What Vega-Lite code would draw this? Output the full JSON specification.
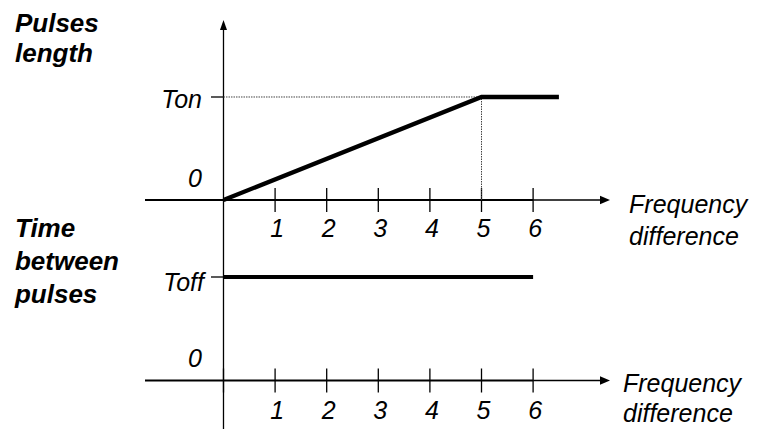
{
  "$schema": "https://vega.github.io/schema/vega-lite/v6.json",
  "padding": 0,
  "spacing": 0,
  "bounds": "flush",
  "background": "white",
  "config": {
    "view": {"stroke": null},
    "font": "Liberation Sans",
    "text": {"font": "Liberation Sans", "color": "black"}
  },
  "resolve": {"scale": {"x": "independent", "y": "independent"}},
  "vconcat": [
    {
      "width": 760,
      "height": 240,
      "encoding": {
        "x": {"field": "x", "type": "quantitative", "scale": {"domain": [-4.331, 10.397], "nice": false, "zero": false}, "axis": null},
        "y": {"field": "y", "type": "quantitative", "scale": {"domain": [-0.3883, 1.9417], "nice": false, "zero": false}, "axis": null}
      },
      "layer": [
        {
          "description": "frequency axis, main segment",
          "data": {"values": [{"x": -1.521, "y": 0, "x2": 6, "y2": 0}]},
          "mark": {"type": "rule", "color": "black", "strokeWidth": 2.2},
          "encoding": {"x2": {"field": "x2"}, "y2": {"field": "y2"}}
        },
        {
          "description": "thin lines: axis tail, vertical axis, ticks, Ton marker",
          "data": {"values": [
            {"x": 6, "y": 0, "x2": 7.35, "y2": 0},
            {"x": 0, "y": -0.3883, "x2": 0, "y2": 1.69},
            {"x": 1, "y": -0.1165, "x2": 1, "y2": 0.1165},
            {"x": 2, "y": -0.1165, "x2": 2, "y2": 0.1165},
            {"x": 3, "y": -0.1165, "x2": 3, "y2": 0.1165},
            {"x": 4, "y": -0.1165, "x2": 4, "y2": 0.1165},
            {"x": 5, "y": -0.1165, "x2": 5, "y2": 0.1165},
            {"x": 6, "y": -0.1165, "x2": 6, "y2": 0.1165},
            {"x": -0.242, "y": 1, "x2": 0, "y2": 1}
          ]},
          "mark": {"type": "rule", "color": "black", "strokeWidth": 1.3},
          "encoding": {"x2": {"field": "x2"}, "y2": {"field": "y2"}}
        },
        {
          "description": "dotted guides to the saturation point",
          "data": {"values": [
            {"x": 0, "y": 1, "x2": 5, "y2": 1},
            {"x": 5, "y": 0, "x2": 5, "y2": 1}
          ]},
          "mark": {"type": "rule", "color": "#444444", "strokeWidth": 1, "strokeDash": [1.5, 1]},
          "encoding": {"x2": {"field": "x2"}, "y2": {"field": "y2"}}
        },
        {
          "description": "pulse length versus frequency difference",
          "data": {"values": [{"x": 0, "y": 0}, {"x": 5, "y": 1}, {"x": 6.5, "y": 1}]},
          "mark": {"type": "line", "color": "black", "strokeWidth": 4.3, "strokeCap": "butt", "strokeJoin": "miter"}
        },
        {
          "data": {"values": [{"x": 0, "y": 1.699}]},
          "mark": {"type": "point", "filled": true, "color": "black", "opacity": 1, "size": 100, "shape": "M0,-1L0.7,1L-0.7,1Z"}
        },
        {
          "data": {"values": [{"x": 7.393, "y": 0}]},
          "mark": {"type": "point", "filled": true, "color": "black", "opacity": 1, "size": 100, "shape": "M1,0L-1,-0.85L-1,0.85Z"}
        },
        {
          "data": {"values": [
            {"x": 1, "y": -0.359, "label": "1"},
            {"x": 2, "y": -0.359, "label": "2"},
            {"x": 3, "y": -0.359, "label": "3"},
            {"x": 4, "y": -0.359, "label": "4"},
            {"x": 5, "y": -0.359, "label": "5"},
            {"x": 6, "y": -0.359, "label": "6"}
          ]},
          "mark": {"type": "text", "fontSize": 25, "fontStyle": "italic", "align": "center", "baseline": "alphabetic", "dx": 2},
          "encoding": {"text": {"field": "label"}}
        },
        {
          "data": {"values": [
            {"x": -0.417, "y": 0.893, "label": "Ton"},
            {"x": -0.42, "y": 0.126, "label": "0"}
          ]},
          "mark": {"type": "text", "fontSize": 25, "fontStyle": "italic", "align": "right", "baseline": "alphabetic"},
          "encoding": {"text": {"field": "label"}}
        },
        {
          "data": {"values": [{"x": 7.86, "y": -0.131, "label": "Frequency\ndifference"}]},
          "mark": {"type": "text", "fontSize": 25, "fontStyle": "italic", "align": "left", "baseline": "alphabetic", "lineBreak": "\n", "lineHeight": 32},
          "encoding": {"text": {"field": "label"}}
        },
        {
          "data": {"values": [{"x": -4.041, "y": 1.631, "label": "Pulses\nlength"}]},
          "mark": {"type": "text", "fontSize": 26, "fontStyle": "italic", "fontWeight": "bold", "align": "left", "baseline": "alphabetic", "lineBreak": "\n", "lineHeight": 30},
          "encoding": {"text": {"field": "label"}}
        }
      ]
    },
    {
      "width": 760,
      "height": 189,
      "encoding": {
        "x": {"field": "x", "type": "quantitative", "scale": {"domain": [-4.331, 10.397], "nice": false, "zero": false}, "axis": null},
        "y": {"field": "y", "type": "quantitative", "scale": {"domain": [-0.4686, 1.3575], "nice": false, "zero": false}, "axis": null}
      },
      "layer": [
        {
          "description": "frequency axis, main segment",
          "data": {"values": [{"x": -1.521, "y": 0, "x2": 6, "y2": 0}]},
          "mark": {"type": "rule", "color": "black", "strokeWidth": 2.2},
          "encoding": {"x2": {"field": "x2"}, "y2": {"field": "y2"}}
        },
        {
          "description": "thin lines: axis tail, vertical axis, ticks, Toff marker",
          "data": {"values": [
            {"x": 6, "y": 0, "x2": 7.35, "y2": 0},
            {"x": 0, "y": -0.4686, "x2": 0, "y2": 1.3575},
            {"x": 0, "y": -0.116, "x2": 0, "y2": 0.116},
            {"x": 1, "y": -0.116, "x2": 1, "y2": 0.116},
            {"x": 2, "y": -0.116, "x2": 2, "y2": 0.116},
            {"x": 3, "y": -0.116, "x2": 3, "y2": 0.116},
            {"x": 4, "y": -0.116, "x2": 4, "y2": 0.116},
            {"x": 5, "y": -0.116, "x2": 5, "y2": 0.116},
            {"x": 6, "y": -0.116, "x2": 6, "y2": 0.116},
            {"x": -0.242, "y": 1, "x2": 0, "y2": 1}
          ]},
          "mark": {"type": "rule", "color": "black", "strokeWidth": 1.3},
          "encoding": {"x2": {"field": "x2"}, "y2": {"field": "y2"}}
        },
        {
          "description": "time between pulses versus frequency difference",
          "data": {"values": [{"x": 0, "y": 1}, {"x": 6, "y": 1}]},
          "mark": {"type": "line", "color": "black", "strokeWidth": 4, "strokeCap": "butt"}
        },
        {
          "data": {"values": [{"x": 7.393, "y": 0}]},
          "mark": {"type": "point", "filled": true, "color": "black", "opacity": 1, "size": 100, "shape": "M1,0L-1,-0.85L-1,0.85Z"}
        },
        {
          "data": {"values": [
            {"x": 1, "y": -0.372, "label": "1"},
            {"x": 2, "y": -0.372, "label": "2"},
            {"x": 3, "y": -0.372, "label": "3"},
            {"x": 4, "y": -0.372, "label": "4"},
            {"x": 5, "y": -0.372, "label": "5"},
            {"x": 6, "y": -0.372, "label": "6"}
          ]},
          "mark": {"type": "text", "fontSize": 25, "fontStyle": "italic", "align": "center", "baseline": "alphabetic", "dx": 2},
          "encoding": {"text": {"field": "label"}}
        },
        {
          "data": {"values": [
            {"x": -0.378, "y": 0.868, "label": "Toff"},
            {"x": -0.42, "y": 0.1275, "label": "0"}
          ]},
          "mark": {"type": "text", "fontSize": 25, "fontStyle": "italic", "align": "right", "baseline": "alphabetic"},
          "encoding": {"text": {"field": "label"}}
        },
        {
          "data": {"values": [{"x": 7.742, "y": -0.108, "label": "Frequency\ndifference"}]},
          "mark": {"type": "text", "fontSize": 25, "fontStyle": "italic", "align": "left", "baseline": "alphabetic", "lineBreak": "\n", "lineHeight": 30},
          "encoding": {"text": {"field": "label"}}
        },
        {
          "data": {"values": [{"x": -4.041, "y": 1.389, "label": "Time\nbetween\npulses"}]},
          "mark": {"type": "text", "fontSize": 26, "fontStyle": "italic", "fontWeight": "bold", "align": "left", "baseline": "alphabetic", "lineBreak": "\n", "lineHeight": 33},
          "encoding": {"text": {"field": "label"}}
        }
      ]
    }
  ]
}
